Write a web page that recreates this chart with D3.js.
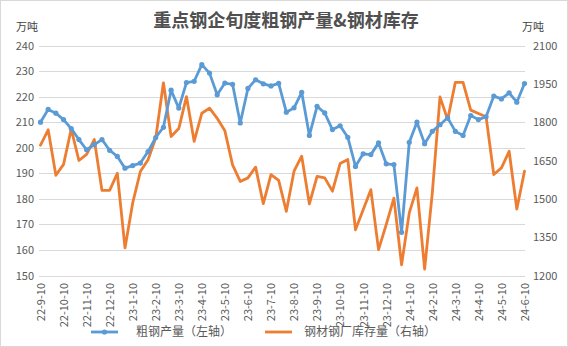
<!DOCTYPE html>
<html><head><meta charset="utf-8">
<script src="https://cdn.jsdelivr.net/npm/d3@7"></script>
<style>
html,body{margin:0;padding:0;background:#fff;}
svg{display:block;font-family:"Noto Sans CJK SC","Noto Sans",sans-serif;}
</style></head>
<body><svg id="c" width="568" height="347"></svg>
<script>
const categories = [
"22-9-10","22-9-20","22-9-30","22-10-10","22-10-20","22-10-31","22-11-10","22-11-20","22-11-30",
"22-12-10","22-12-20","22-12-31","23-1-10","23-1-20","23-1-31","23-2-10","23-2-20","23-2-28",
"23-3-10","23-3-20","23-3-31","23-4-10","23-4-20","23-4-30","23-5-10","23-5-20","23-5-31",
"23-6-10","23-6-20","23-6-30","23-7-10","23-7-20","23-7-31","23-8-10","23-8-20","23-8-31",
"23-9-10","23-9-20","23-9-30","23-10-10","23-10-20","23-10-31","23-11-10","23-11-20","23-11-30",
"23-12-10","23-12-20","23-12-31","24-1-10","24-1-20","24-1-31","24-2-10","24-2-20","24-2-29",
"24-3-10","24-3-20","24-3-31","24-4-10","24-4-20","24-4-30","24-5-10","24-5-20","24-5-31","24-6-10"];

const tickLabels = ["22-9-10","22-10-10","22-11-10","22-12-10","23-1-10","23-2-10","23-3-10","23-4-10",
"23-5-10","23-6-10","23-7-10","23-8-10","23-9-10","23-10-10","23-11-10","23-12-10","24-1-10","24-2-10",
"24-3-10","24-4-10","24-5-10","24-6-10"];

// 粗钢产量 (左轴, 万吨)
const crudeSteel = [210,215,213.5,211,207.5,203.2,199.2,201.2,203.2,199,196.6,192,193,194,198.5,204,
208,222.5,215.5,225.5,226,232.5,229.2,220.7,225.3,224.8,209.7,223.2,226.6,225,224.2,225.2,
213.9,215.6,221.7,204.8,216.2,213.6,207.1,208.6,204.1,192.7,197.6,197.3,201.9,193.7,193.4,166.9,
202.1,210,201.6,206.4,209,211.7,206.4,204.8,212.6,211,212.1,220.2,219.1,221.5,217.8,225.1];

// 钢材钢厂库存量 (右轴, 万吨)
const steelStock = [1710,1770,1592,1635,1773,1650,1674,1732,1533,1533,1600,1308,1484,1607,1653,1738,
1954,1744,1775,1900,1725,1835,1855,1815,1766,1633,1568,1582,1624,1481,1595,1572,
1451,1608,1667,1480,1588,1582,1530,1638,1654,1379,1457,1536,1301,1399,1503,1242,
1445,1543,1225,1523,1899,1810,1956,1956,1847,1834,1821,1595,1621,1686,1460,1608];

const leftTicks = [150,160,170,180,190,200,210,220,230,240];
const rightTicks = [1200,1350,1500,1650,1800,1950,2100];

const title = "重点钢企旬度粗钢产量&钢材库存";
const unitLabel = "万吨";
const seriesNames = ["粗钢产量（左轴）","钢材钢厂库存量（右轴）"];

const BLUE = "#5B9BD5", ORANGE = "#ED7D31", GRID = "#D9D9D9", TXT = "#595959";

const svg = d3.select("#c");
svg.append("rect").attr("x",0.5).attr("y",0.5).attr("width",567).attr("height",346)
  .attr("fill","#fff").attr("stroke",GRID);

const x = d3.scalePoint().domain(categories).range([40.5, 524.5]);
const yL = d3.scaleLinear().domain([150,240]).range([275.5, 45.5]);
const yR = d3.scaleLinear().domain([1200,2100]).range([275.5, 45.5]);

// gridlines
svg.append("g").selectAll("line").data(leftTicks).join("line")
  .attr("x1",39).attr("x2",525)
  .attr("y1",d=>Math.round(yL(d))+0.5).attr("y2",d=>Math.round(yL(d))+0.5)
  .attr("stroke",GRID).attr("stroke-width",1);

// left axis
const gL = svg.append("g").attr("transform","translate(38,0)")
  .call(d3.axisLeft(yL).tickValues(leftTicks).tickSize(0).tickPadding(4).tickFormat(d3.format("d")));
gL.select(".domain").remove();
gL.selectAll("text").attr("fill",TXT).style("font-size","11px").style("font-family","'Noto Sans CJK SC',sans-serif");

// right axis
const gR = svg.append("g").attr("transform","translate(529,0)")
  .call(d3.axisRight(yR).tickValues(rightTicks).tickSize(0).tickPadding(4).tickFormat(d3.format("d")));
gR.select(".domain").remove();
gR.selectAll("text").attr("fill",TXT).style("font-size","11px").style("font-family","'Noto Sans CJK SC',sans-serif");

// bottom axis
const gB = svg.append("g").attr("transform","translate(0,279)")
  .call(d3.axisBottom(x).tickValues(tickLabels).tickSize(0).tickPadding(0));
gB.select(".domain").remove();
gB.selectAll("text").attr("fill",TXT).style("font-size","11px")
  .style("font-family","'Noto Sans CJK SC',sans-serif")
  .attr("text-anchor","end").attr("dy","0.35em").attr("dx","-4")
  .attr("transform","rotate(-90)").attr("y",0).attr("x",0);

// units
svg.append("text").attr("x",16).attr("y",31).text(unitLabel)
  .attr("fill","#404040").style("font-size","11px");
svg.append("text").attr("x",522).attr("y",31).text(unitLabel)
  .attr("fill","#404040").style("font-size","11px");

// title
svg.append("text").attr("x",286).attr("y",27).attr("text-anchor","middle").text(title)
  .attr("fill","#505050").style("font-size","18px").style("font-weight","bold");

// lines
const lineL = d3.line().x((d,i)=>x(categories[i])).y(d=>yL(d));
const lineR = d3.line().x((d,i)=>x(categories[i])).y(d=>yR(d));

svg.append("path").datum(steelStock).attr("d",lineR).attr("fill","none")
  .attr("stroke",ORANGE).attr("stroke-width",2.8).attr("stroke-linejoin","round").attr("stroke-linecap","round");
svg.append("path").datum(crudeSteel).attr("d",lineL).attr("fill","none")
  .attr("stroke",BLUE).attr("stroke-width",2.8).attr("stroke-linejoin","round").attr("stroke-linecap","round");
svg.append("g").selectAll("circle").data(crudeSteel).join("circle")
  .attr("cx",(d,i)=>x(categories[i])).attr("cy",d=>yL(d)).attr("r",2.6).attr("fill",BLUE);

// legend
const ly = 332;
const lg = svg.append("g");
lg.append("line").attr("x1",91).attr("x2",118).attr("y1",ly).attr("y2",ly)
  .attr("stroke",BLUE).attr("stroke-width",2.8);
lg.append("circle").attr("cx",104.5).attr("cy",ly).attr("r",2.6).attr("fill",BLUE);
lg.append("text").attr("x",136).attr("y",ly).attr("dy","0.36em").text(seriesNames[0])
  .attr("fill",TXT).style("font-size","12px");
lg.append("line").attr("x1",265).attr("x2",292).attr("y1",ly).attr("y2",ly)
  .attr("stroke",ORANGE).attr("stroke-width",2.8);
lg.append("text").attr("x",304).attr("y",ly).attr("dy","0.36em").text(seriesNames[1])
  .attr("fill",TXT).style("font-size","12px");
</script></body></html>
